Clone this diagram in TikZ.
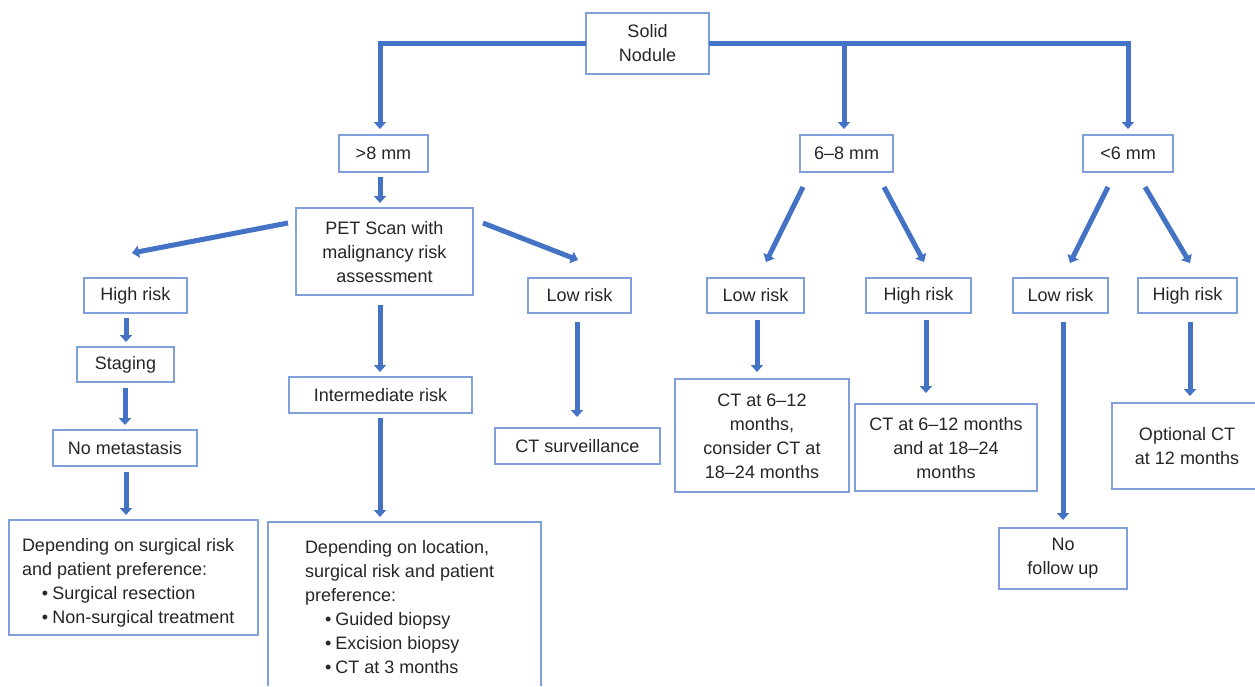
\documentclass[tikz,border=0pt]{standalone}
\usepackage{fontspec}
\setmainfont{Liberation Sans}
\usetikzlibrary{arrows.meta,calc}
\definecolor{arrc}{RGB}{68,114,196}
\definecolor{boxc}{RGB}{128,160,220}
\definecolor{txtc}{RGB}{38,38,38}
\tikzset{
  x=1pt, y=-1pt,
  box/.style={draw=boxc, line width=1.2pt, inner sep=0pt, outer sep=0pt, align=center, text=txtc,
    font=\fontsize{18}{24}\selectfont},
  plain/.style={inner sep=0pt, outer sep=0pt, align=center, text=txtc, font=\fontsize{18}{24}\selectfont},
  boxline/.style={draw=boxc, line width=1.2pt},
  arr/.style={draw=arrc, line width=5pt, line join=miter,
    -{Triangle[width=12pt,length=7pt]}}
}
\newcommand{\bul}{\hspace*{20pt}\textbullet\hspace{4pt}}
\begin{document}
\begin{tikzpicture}
\useasboundingbox (0,0) rectangle (1255,686);
\fill[white] (0,0) rectangle (1255,686);
% nodes
\node[box, minimum width=123pt, minimum height=61pt] (sn) at (647.5,43.5) {Solid\\Nodule};
\node[box, minimum width=89pt, minimum height=37pt] (gt8) at (383.5,153.5) {>8 mm};
\node[box, minimum width=93pt, minimum height=37pt] (mid) at (846.5,153.5) {6–8 mm};
\node[box, minimum width=90pt, minimum height=37pt] (lt6) at (1128,153.5) {<6 mm};
\node[box, minimum width=177pt, minimum height=87pt] (pet) at (384.5,251.5) {\rule{0pt}{14pt}PET Scan with\\malignancy risk\\assessment};
\node[box, minimum width=103pt, minimum height=35pt] (hrA) at (135.5,295.5) {High risk};
\node[box, minimum width=97pt, minimum height=35pt] (stg) at (125.5,364.5) {Staging};
\node[box, minimum width=144pt, minimum height=36pt] (nomet) at (125,448) {No metastasis};
\node[box, minimum width=249pt, minimum height=115pt] (dep1) at (133.5,577.5) {};
\node[plain, anchor=north west, align=left] (dep1t) at (22,538.5) {Depending on surgical risk\\and patient preference:\\\bul Surgical resection\\\bul Non-surgical treatment};
\node[box, minimum width=183pt, minimum height=36pt] (intr) at (380.5,395) {Intermediate risk};
\node[plain, minimum width=273pt, minimum height=164pt] (dep2) at (404.5,604) {};
\draw[boxline] (dep2.south west) -- (dep2.north west) -- (dep2.north east) -- (dep2.south east);
\node[plain, anchor=north west, align=left] (dep2t) at (305,540.5) {Depending on location,\\surgical risk and patient\\preference:\\\bul Guided biopsy\\\bul Excision biopsy\\\bul CT at 3 months};
\node[box, minimum width=103pt, minimum height=35pt] (lowA) at (579.5,295.5) {Low risk};
\node[box, minimum width=165pt, minimum height=36pt] (ctsurv) at (577.5,446) {CT surveillance};
\node[box, minimum width=97pt, minimum height=35pt] (lowB) at (755.5,295.5) {Low risk};
\node[box, minimum width=105pt, minimum height=35pt] (highB) at (918.5,295.5) {High risk};
\node[box, minimum width=174pt, minimum height=113pt] (ctA) at (762,435.5) {\rule{0pt}{14pt}CT at 6–12\\months,\\consider CT at\\18–24 months};
\node[box, minimum width=182pt, minimum height=87pt] (ctB) at (946,447.5) {\rule{0pt}{14pt}CT at 6–12 months\\and at 18–24\\months};
\node[box, minimum width=95pt, minimum height=35pt] (lowC) at (1060.5,295.5) {Low risk};
\node[box, minimum width=99pt, minimum height=35pt] (highC) at (1187.5,295.5) {High risk};
\node[box, minimum width=128pt, minimum height=61pt] (nofu) at (1063,558.5) {No\\follow up};
\node[plain, minimum width=143pt, minimum height=86pt] (opt) at (1183.5,446) {\hspace*{7pt}Optional CT\\\hspace*{7pt}at 12 months};
\draw[boxline] (opt.north east) -- (opt.north west) -- (opt.south west) -- (opt.south east);
% bus
\coordinate (g1) at ($(gt8.north)+(-3.5,0)$);
\coordinate (m1) at ($(mid.north)+(-2.5,0)$);
\draw[arr, shorten >=6pt] (sn.west) -| (g1);
\draw[arr, shorten >=6pt] (sn.east) -| (lt6.north);
\draw[arr, shorten >=6pt] (sn.east -| m1) -- (m1);
% verticals
\draw[arr] ($(gt8.south)+(-3.5,5)$) -- ($(pet.north)+(-4.5,-5)$);
\draw[arr] ($(pet.south)+(-4.5,10)$) -- ($(intr.north)+(-0.5,-5)$);
\draw[arr] ($(intr.south)+(-0.5,5)$) -- ($(dep2.north)+(-24.5,-5)$);
\draw[arr] ($(hrA.south)+(-9.5,5)$) -- ($(stg.north)+(0.5,-5)$);
\draw[arr] ($(stg.south)+(-0.5,6)$) -- ($(nomet.north)+(0,-5)$);
\draw[arr] ($(nomet.south)+(1,6)$) -- ($(dep1.north)+(-7.5,-5)$);
\draw[arr] ($(lowA.south)+(-2.5,9)$) -- ($(ctsurv.north)+(-0.5,-11)$);
\draw[arr] ($(lowB.south)+(1.5,7)$) -- ($(ctA.north)+(-5,-7)$);
\draw[arr] ($(highB.south)+(7.5,7)$) -- ($(ctB.north)+(-20,-11)$);
\draw[arr] ($(lowC.south)+(2.5,9)$) -- ($(nofu.north)+(0,-8)$);
\draw[arr] ($(highC.south)+(2.5,9)$) -- ($(opt.north)+(6.5,-7)$);
% diagonals
\draw[arr] ($(pet.north west)+(-8,15)$) -- ($(hrA.north)+(-3.5,-25)$);
\draw[arr] ($(pet.north east)+(10,15)$) -- ($(lowA.north)+(-1.5,-18)$);
\draw[arr] ($(mid.south west)+(3,15)$) -- ($(lowB.north)+(10.5,-16)$);
\draw[arr] ($(mid.south east)+(-9,15)$) -- ($(highB.north)+(5.5,-16)$);
\draw[arr] ($(lt6.south west)+(25,15)$) -- ($(lowC.north)+(9.5,-15)$);
\draw[arr] ($(lt6.south east)+(-28,15)$) -- ($(highC.north)+(2.5,-15)$);
\end{tikzpicture}
\end{document}
